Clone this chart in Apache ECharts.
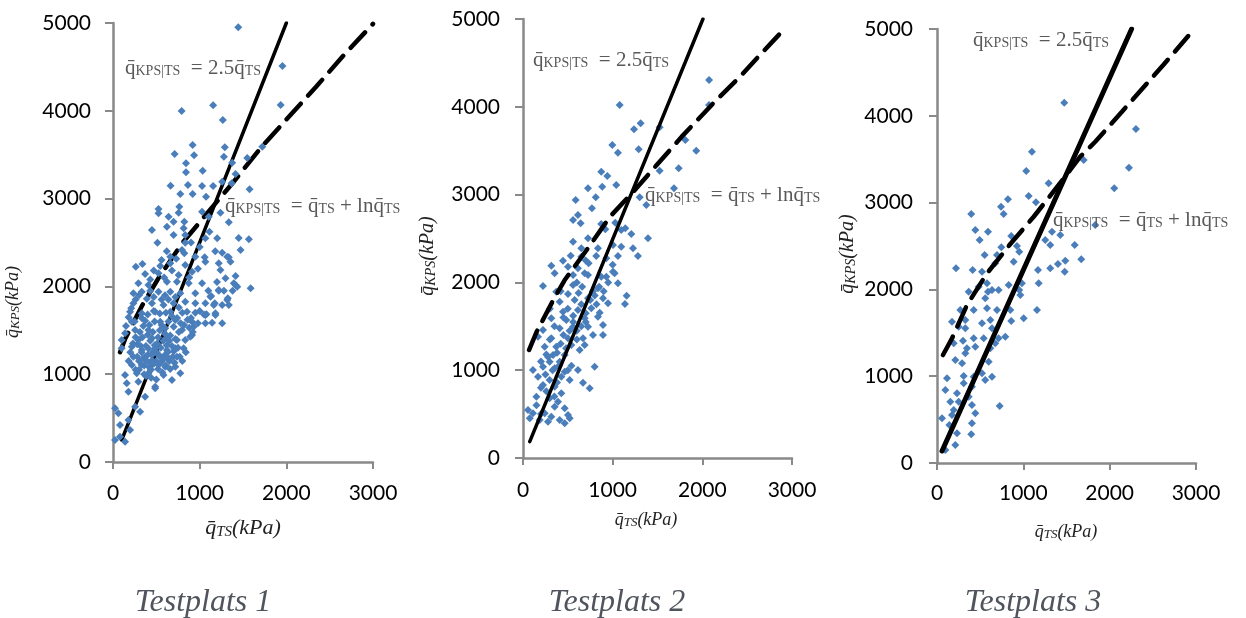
<!DOCTYPE html>
<html>
<head>
<meta charset="utf-8">
<script src="https://cdn.jsdelivr.net/npm/echarts@6/dist/echarts.min.js"></script>
<style>
  html, body { margin: 0; padding: 0; background: #ffffff; }
  #chart { width: 1246px; height: 618px; }
</style>
</head>
<body>
<div id="chart"></div>
<script>
// Axis ticks shared by the three panels
const xTicks = [0, 1000, 2000, 3000];
const yTicks = [0, 1000, 2000, 3000, 4000, 5000];

// Panel captions
const panelNames = ['Testplats 1', 'Testplats 2', 'Testplats 3'];

// Measured points (q_TS, q_KPS) in kPa, Testplats 1
const pointsTP1 = [
  [1445,4951],[1955,4510],[1935,4066],[792,3998],[1155,4063],[1267,3895],[919,3610],[711,3508],
  [935,3493],[1290,3584],[1279,3478],[1723,3591],[1549,3462],[842,3402],[842,3300],[1035,3318],
  [1375,3409],[1414,3280],[1260,3193],[1368,3174],[1576,3106],[664,3147],[865,3155],[1028,3144],
  [1155,3144],[777,3053],[919,3053],[1074,3022],[525,2882],[525,2833],[765,2908],[757,2840],
  [1028,2851],[1240,2840],[641,2794],[699,2737],[823,2737],[1105,2794],[1336,2730],[449,2642],
  [622,2680],[815,2662],[699,2585],[834,2585],[1113,2623],[513,2498],[834,2498],[1066,2548],
  [1202,2548],[1568,2537],[1450,2550],[1472,2415],[1260,2384],[796,2415],[661,2338],[730,2316],
  [1336,2331],[1058,2331],[823,2377],[950,2338],[1318,2338],[340,2255],[263,2225],[545,2232],
  [661,2263],[834,2244],[1066,2281],[1220,2263],[1356,2281],[371,2141],[525,2149],[757,2130],
  [912,2168],[1240,2187],[1298,2092],[1414,2118],[293,2035],[409,2016],[622,2054],[738,2054],
  [873,2035],[1028,2035],[1414,2016],[1588,1978],[235,1921],[332,1940],[525,1940],[661,1940],
  [777,1921],[950,1921],[1124,1883],[1220,1951],[1318,1845],[235,1807],[449,1807],[583,1788],
  [699,1807],[834,1826],[950,1807],[1066,1807],[1174,1807],[1336,1788],[197,1712],[332,1693],
  [487,1712],[661,1712],[854,1712],[1066,1674],[1182,1674],[217,1598],[371,1609],[545,1598],
  [719,1617],[912,1598],[1066,1579],[1144,1587],[1260,1579],[139,1466],[255,1503],[409,1503],
  [603,1523],[796,1503],[892,1427],[100,1390],[293,1390],[449,1409],[622,1409],[738,1390],
  [834,1390],[100,1295],[217,1313],[332,1276],[487,1295],[622,1276],[719,1295],[815,1295],
  [235,1200],[371,1200],[449,1219],[545,1200],[641,1181],[738,1200],[217,1105],[332,1105],
  [429,1124],[525,1105],[603,1086],[719,1086],[139,991],[274,1010],[409,1010],[583,991],
  [777,1010],[159,896],[293,915],[487,858],[680,934],[178,801],[371,744],[23,612],[62,555],
  [255,630],[178,478],[81,421],[197,364],[23,251],[139,231],[81,288],[313,573],
  [1132,1891],[1163,1788],[1078,1682],[1182,1693],[1260,1788],[1325,1864],[1394,2035],[1434,1997],
  [1220,1959],[931,1541],[912,1446],[487,839],[300,1150],[350,1180],[400,1220],[450,1160],
  [500,1250],[550,1300],[600,1220],[650,1150],[700,1260],[380,1320],[430,1380],[480,1330],
  [520,1420],[580,1380],[620,1330],[680,1320],[330,1250],[360,1100],[420,1080],[470,1120],
  [520,1060],[560,1140],[610,1100],[660,1060],[400,1450],[460,1480],[540,1500],[600,1460],
  [660,1440],[720,1400],[280,1340],[260,1420],[310,1480],[350,1550],[420,1560],[480,1600],
  [560,1560],[640,1600],[700,1540],[760,1480],[300,1050],[380,980],[440,960],[500,940],
  [250,1600],[330,1640],[400,1680],[470,1720],[540,1690],[610,1700],[680,1660],[740,1640],
  [780,1580],[820,1560],[860,1620],[900,1640],[950,1700],[1000,1720],[1050,1680],[880,1530],
  [920,1480],[980,1580],
  [180,1150],[200,1250],[230,1350],[260,1050],[280,1200],[320,1320],[340,1420],[360,1000],
  [390,1150],[410,1290],[440,1050],[460,1250],[500,1150],[510,1350],[530,1220],[570,1020],
  [590,1180],[630,1250],[650,1380],[690,1200],[710,1130],[750,1300],[770,1200],[800,1150],
  [840,1250],[150,1550],[180,1650],[210,1750],[260,1850],[300,1900],[390,1860],[430,1950],
  [470,1880],[560,1850],[600,1900],[640,1850],[720,1880],[760,1760],[800,1700],[430,2080],
  [470,2180],[590,2100],[680,2180],[880,2100],[980,2200],[1180,2400],[1000,2450],[900,2500],
  [560,2300],[620,2400],[1100,1950],[1200,2050],[1280,1950],[1380,1950]
];

// Measured points, Testplats 2
const pointsTP2 = [
  [1078,4021],[2075,4305],[2075,4021],[1312,3812],[1238,3744],[1524,3766],[996,3565],[1059,3478],
  [1290,3516],[1810,3622],[1932,3500],[873,3261],[940,3212],[1524,3272],[1736,3300],[725,3072],
  [884,3090],[1040,3109],[1684,3072],[587,2939],[811,2969],[1301,2969],[1375,2882],[769,2844],
  [558,2711],[613,2768],[643,2673],[873,2665],[918,2605],[1029,2680],[1096,2597],[1141,2616],
  [1208,2551],[1394,2502],[558,2464],[725,2502],[650,2388],[836,2388],[1004,2426],[1096,2407],
  [1227,2388],[1282,2301],[532,2304],[650,2293],[732,2217],[817,2301],[929,2274],[1059,2301],
  [446,2247],[316,2190],[502,2179],[613,2160],[1004,2122],[353,2103],[558,2084],[688,2103],
  [873,2065],[223,1959],[371,1894],[502,1868],[558,1970],[725,2084],[836,1933],[929,2065],
  [1022,2103],[1059,1990],[1156,1849],[1137,1754],[409,1780],[576,1800],[725,1819],[892,1819],
  [948,1762],[446,1666],[613,1686],[762,1705],[855,1655],[316,1591],[483,1572],[688,1591],
  [836,1610],[223,1458],[409,1477],[558,1496],[725,1496],[892,1515],[892,1401],[781,1401],
  [167,1382],[316,1363],[502,1363],[669,1363],[242,1268],[371,1268],[539,1287],[688,1287],
  [335,1173],[465,1173],[297,1097],[409,1097],[632,1230],[111,1002],[223,1040],[353,1021],
  [465,983],[613,1002],[799,1040],[167,926],[297,888],[427,926],[521,888],[669,858],
  [744,794],[223,831],[353,812],[427,737],[149,698],[297,680],[390,641],[353,584],
  [465,566],[56,547],[111,509],[242,509],[316,470],[502,490],[75,452],[186,433],
  [279,413],[409,433],[521,452],[465,395],[600,2000],[660,1950],[780,1900],[500,1700],
  [650,1750],[350,1500],[600,1450],[450,1400],[280,1150],[540,1050],[200,1100],[380,860],
  [260,760],[560,1620],[700,1550],[820,1750],[950,2000],[420,1900],[300,1700],[620,1880],
  [150,600],[200,800],[250,950],[330,1000],[380,1200],[420,1300],[480,1250],[520,1450],
  [560,1550],[600,1350],[650,1500],[700,1650],[750,1800],[800,1850],[850,1950],[900,1900],
  [1000,2200],[700,2250],[450,1600],[300,1350],[260,1180],[400,1050],[200,500],[350,700],
  [500,1000]
];

// Measured points, Testplats 3
const pointsTP3 = [
  [1474,4151],[2223,3402],[2304,3848],[2053,3164],[1100,3586],[1034,3364],[1699,3491],[1293,3222],
  [1062,3076],[1146,3003],[822,3038],[741,2953],[772,2868],[397,2868],[444,2684],[591,2665],
  [494,2569],[860,2615],[745,2485],[926,2500],[953,2434],[552,2396],[695,2396],[1254,2569],
  [1312,2511],[1332,2665],[1428,2627],[1595,2511],[1833,2742],[1671,2347],[1486,2330],[1401,2292],
  [1479,2204],[1312,2243],[1170,2223],[1178,2070],[220,2243],[413,2223],[521,2204],[675,2300],
  [888,2319],[367,1973],[483,2031],[579,2070],[591,1973],[637,1993],[559,1897],[714,1993],
  [830,2051],[953,1993],[965,1935],[984,2070],[270,1763],[425,1763],[579,1782],[695,1763],
  [849,1763],[1158,1763],[1004,1667],[860,1636],[174,1628],[251,1570],[328,1647],[328,1552],
  [618,1647],[637,1552],[521,1609],[791,1455],[714,1436],[541,1436],[425,1436],[301,1409],
  [193,1379],[444,1340],[347,1321],[618,1321],[675,1379],[328,1264],[212,1187],[290,1149],
  [599,1167],[521,1033],[637,994],[559,956],[425,994],[309,1002],[116,976],[97,841],
  [309,918],[405,879],[232,803],[154,706],[251,706],[193,611],[367,764],[405,668],
  [58,515],[174,553],[444,573],[726,657],[405,457],[232,342],[397,331],[212,207],
  [97,150],[143,438]
];

// Reference lines: solid q = 2.5 q_TS and dashed q = q_TS + ln q_TS
const solidTP1 = [[100, 250], [2000, 5000]];
const solidTP2 = [[75, 186], [2007, 5000]];
const solidTP3 = [[58, 138], [2254, 5000]];
const dashedTP1 = [[81,1250],[139,1400],[332,1775],[525,2095],[800,2494],[1089,2836],[1390,3189],
  [1703,3576],[2016,3918],[2341,4271],[2665,4636],[3000,4990]];
const dashedTP2 = [[67,1230],[153,1439],[338,1800],[465,2027],[710,2369],[970,2748],[1230,3033],
  [1491,3337],[1770,3660],[2122,4040],[2420,4343],[2642,4590],[2922,4894]];
const dashedTP3 = [[69,1244],[174,1436],[347,1820],[579,2185],[849,2523],[1120,2837],[1409,3203],
  [1659,3529],[1833,3701],[2142,4047],[2621,4585],[2910,4919]];

const panels = [
  { grid: { left: 113, top: 23, width: 260, height: 439 }, pts: pointsTP1, solid: solidTP1, dashed: dashedTP1,
    solidW: 3.5, lineZ: 1, yMargin: 22, xMargin: 21 },
  { grid: { left: 523, top: 19, width: 269, height: 439 }, pts: pointsTP2, solid: solidTP2, dashed: dashedTP2,
    solidW: 3.5, lineZ: 3, yMargin: 23, xMargin: 22 },
  { grid: { left: 937, top: 29, width: 259, height: 434 }, pts: pointsTP3, solid: solidTP3, dashed: dashedTP3,
    solidW: 5, lineZ: 3, yMargin: 24, xMargin: 20 }
];

const axisGray = '#898989';
const tickFont = { color: '#000000', fontFamily: 'Lato', fontSize: 21, formatter: v => String(v) };

const option = {
  backgroundColor: '#ffffff',
  animation: false,
  grid: panels.map(p => p.grid),
  xAxis: panels.map((p, i) => ({
    type: 'value', gridIndex: i, min: xTicks[0], max: xTicks[xTicks.length - 1], interval: 1000,
    splitLine: { show: false },
    axisLine: { show: true, onZero: false, lineStyle: { color: axisGray, width: 2.5 } },
    axisTick: { show: true, length: 7, lineStyle: { color: axisGray, width: 2 } },
    axisLabel: Object.assign({ margin: p.xMargin }, tickFont)
  })),
  yAxis: panels.map((p, i) => ({
    type: 'value', gridIndex: i, min: yTicks[0], max: yTicks[yTicks.length - 1], interval: 1000,
    splitLine: { show: false },
    axisLine: { show: true, onZero: false, lineStyle: { color: axisGray, width: 2.5 } },
    axisTick: { show: true, length: 8, lineStyle: { color: axisGray, width: 2 } },
    axisLabel: Object.assign({ margin: p.yMargin }, tickFont)
  })),
  series: []
};

panels.forEach((p, i) => {
  option.series.push({
    type: 'scatter', xAxisIndex: i, yAxisIndex: i, data: p.pts, z: 2,
    symbol: 'diamond', symbolSize: 8,
    itemStyle: { color: '#4a7ebb', opacity: 1 }
  });
  option.series.push({
    type: 'line', xAxisIndex: i, yAxisIndex: i, data: p.solid, z: p.lineZ,
    showSymbol: false, symbol: 'none', clip: true,
    lineStyle: { color: '#000000', width: p.solidW, cap: 'round' }
  });
  option.series.push({
    type: 'line', xAxisIndex: i, yAxisIndex: i, data: p.dashed, z: p.lineZ,
    showSymbol: false, symbol: 'none', clip: true,
    lineStyle: { color: '#000000', width: 4.5, type: [21, 11], cap: 'round' }
  });
});

// Equation labels and axis titles
const eqColor = '#595959';
const eqRich = {
  m: { fontFamily: 'Liberation Serif', fontSize: 21, fill: eqColor, color: eqColor },
  s: { fontFamily: 'Liberation Serif', fontSize: 14, fill: eqColor, color: eqColor, padding: [6, 0, 0, 0] }
};
function eqText(x, y, text) {
  return { type: 'text', x: x, y: y, z: 10,
    style: { text: text, rich: eqRich, verticalAlign: 'middle', align: 'left' } };
}
const eqA = '{m|q̄}{s|KPS|TS}{m|  = 2.5q̄}{s|TS}';
const eqB = '{m|q̄}{s|KPS|TS}{m|  = q̄}{s|TS}{m| + lnq̄}{s|TS}';

function titleRich(size) {
  return {
    m: { fontFamily: 'Liberation Serif', fontStyle: 'italic', fontSize: size, fill: '#222' },
    s: { fontFamily: 'Liberation Serif', fontStyle: 'italic', fontSize: Math.round(size * 0.7), fill: '#222', padding: [Math.round(size * 0.35), 0, 0, 0] }
  };
}
function xTitle(cx, cy, size) {
  return { type: 'text', x: cx, y: cy, z: 10,
    style: { text: '{m|q̄}{s|TS}{m|(kPa)}', rich: titleRich(size), align: 'center', verticalAlign: 'middle' } };
}
function yTitle(cx, cy, size) {
  return { type: 'text', x: cx, y: cy, rotation: Math.PI / 2, z: 10,
    style: { text: '{m|q̄}{s|KPS}{m|(kPa)}', rich: titleRich(size), align: 'center', verticalAlign: 'middle' } };
}
function caption(cx, text) {
  return { type: 'text', x: cx, y: 603, z: 10,
    style: { text: text, fontFamily: 'Liberation Serif', fontStyle: 'italic', fontSize: 32,
      fill: '#50555d', align: 'center', verticalAlign: 'middle' } };
}

option.graphic = [
  eqText(125, 68, eqA), eqText(225, 206, eqB),
  eqText(533, 60, eqA), eqText(645, 195, eqB),
  eqText(973, 40, eqA), eqText(1053, 220, eqB),
  xTitle(243, 528, 22), xTitle(646, 520, 18), xTitle(1066, 532, 18),
  yTitle(13, 302, 18), yTitle(428, 256, 20), yTitle(848, 254, 20),
  caption(203, panelNames[0]), caption(617, panelNames[1]), caption(1033, panelNames[2])
];

const chart = echarts.init(document.getElementById('chart'), null, { renderer: 'canvas' });
chart.setOption(option);
</script>
</body>
</html>
